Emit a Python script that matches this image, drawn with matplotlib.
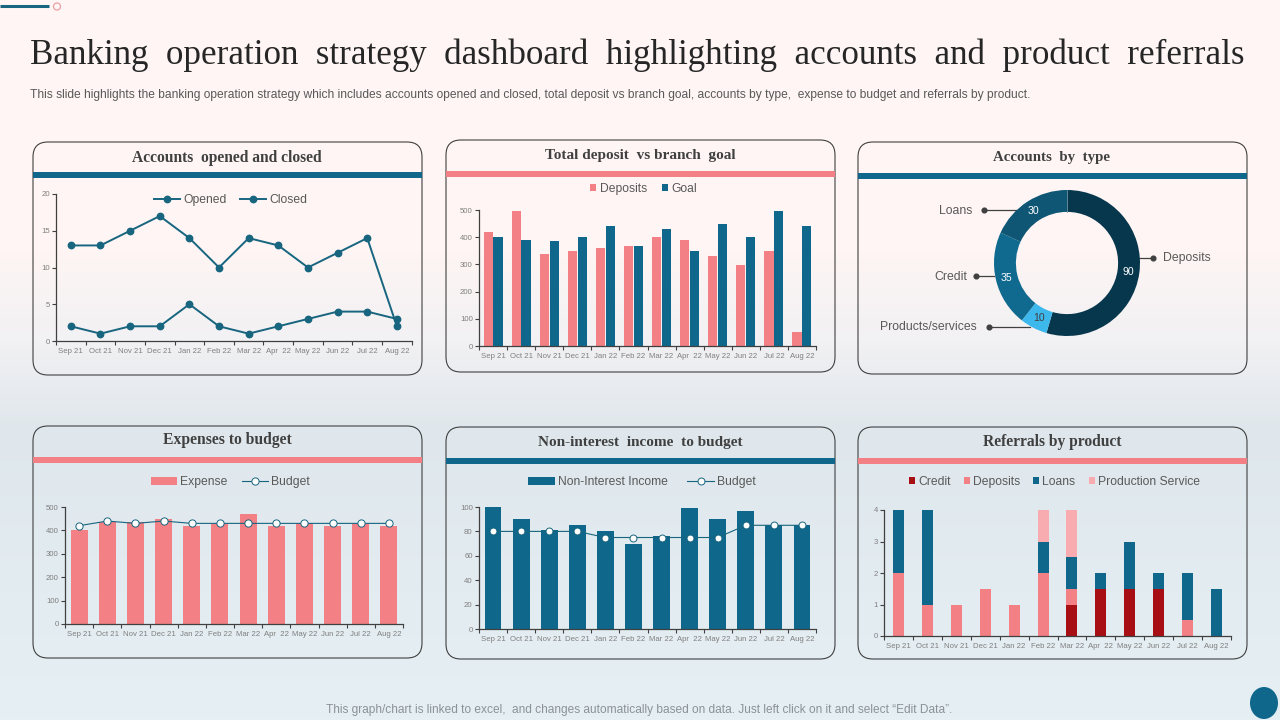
import numpy as np
import matplotlib
matplotlib.use('Agg')
import matplotlib.pyplot as plt
from matplotlib.colors import LinearSegmentedColormap
from matplotlib.patches import FancyBboxPatch, Rectangle, Circle, Ellipse

months = ['Sep 21','Oct 21','Nov 21','Dec 21','Jan 22','Feb 22','Mar 22','Apr  22','May 22','Jun 22','Jul 22','Aug 22']
opened = [13,13,15,17,14,10,14,13,10,12,14,2]
closed = [2,1,2,2,5,2,1,2,3,4,4,3]
deposits = [420,495,340,350,360,368,400,390,332,298,350,50]
goal = [400,390,385,400,440,368,430,350,448,400,498,440]
type_names = ['Deposits','Products/services','Credit','Loans']
type_values = [90,10,35,30]
expense = [400,435,437,450,420,427,468,420,430,420,428,420]
expense_budget = [420,440,430,440,430,430,430,430,430,430,430,430]
income = [100,90,81,85,80,70,76,99,90,97,85,85]
income_budget = [80,80,80,80,75,75,75,75,75,85,85,85]
ref_credit = [0,0,0,0,0,0,1,1.5,1.5,1.5,0,0]
ref_deposits = [2,1,1,1.5,1,2,0.5,0,0,0,0.5,0]
ref_loans = [2,3,0,0,0,1,1,0.5,1.5,0.5,1.5,1.5]
ref_production = [0,0,0,0,0,1,1.5,0,0,0,0,0]

W, H = 1280, 720
TEAL = '#0f678c'; PINK = '#f38085'; DARK = '#404040'; GREY = '#7f7f7f'; LEG = '#595959'
SANS = 'Liberation Sans'; SERIF = 'Liberation Serif'

fig = plt.figure(figsize=(12.8, 7.2), dpi=100)
bg = fig.add_axes([0, 0, 1, 1], zorder=0)
bg.set_xlim(0, W); bg.set_ylim(H, 0); bg.axis('off')
stops = [(0, '#fef5f4'), (250/720, '#fef5f4'), (340/720, '#f2f1f3'), (430/720, '#dfe7ec'), (1, '#e6f0f4')]
cmap = LinearSegmentedColormap.from_list('bg', stops)
bg.imshow(np.linspace(0, 1, 720)[:, None], extent=[0, W, H, 0], aspect='auto', cmap=cmap, vmin=0, vmax=1, zorder=0)

renderer = fig.canvas.get_renderer()

def fit_text(s, x0, x1, y, **kw):
    t = bg.text(x0, y, s, ha='left', va='center', **kw)
    for _ in range(3):
        w = t.get_window_extent(renderer).width
        t.set_fontsize(t.get_fontsize() * (x1 - x0) / w)
    return t

fit_text('Banking  operation  strategy  dashboard  highlighting  accounts  and  product  referrals',
         30, 1243, 55, family=SERIF, fontsize=27, color='#262626')
fit_text('This slide highlights the banking operation strategy which includes accounts opened and closed, total deposit vs branch goal, accounts by type,  expense to budget and referrals by product.',
         30, 1025, 95, family=SANS, fontsize=8.5, color='#595959')
fit_text('This graph/chart is linked to excel,  and changes automatically based on data. Just left click on it and select \u201cEdit Data\u201d.',
         326, 955, 710, family=SANS, fontsize=8.5, color='#8b9296')
bg.plot([0, 49], [6, 6], color='#17657f', lw=2.2, solid_capstyle='butt')
bg.add_patch(Circle((57, 6.5), 3.5, fc='none', ec='#eda0a6', lw=0.9))
bg.add_patch(Ellipse((1264, 703), 28, 32, fc=TEAL, ec='none'))

def panel(x0, y0, x1, y1, bary, barc, title, tx0, tx1, ty):
    r = 15
    bg.add_patch(FancyBboxPatch((x0 + r, y0 + r), x1 - x0 - 2*r, y1 - y0 - 2*r,
                                boxstyle=f'round,pad={r},rounding_size={r}', fc='none', ec=DARK, lw=0.8))
    bg.add_patch(Rectangle((x0, bary), x1 - x0, 6, fc=barc, ec='none'))
    fit_text(title, tx0, tx1, ty + 1.5, family=SERIF, fontsize=11, fontweight='bold', color=DARK)

panel(33, 142, 422, 375, 172, TEAL, 'Accounts  opened and closed', 132, 323, 156)
panel(446, 140, 835, 372, 171, PINK, 'Total deposit  vs branch  goal', 545, 736, 154)
panel(858, 142, 1247, 374, 173, TEAL, 'Accounts  by  type', 993, 1110, 156)
panel(33, 426, 422, 658, 457, PINK, 'Expenses to budget', 163, 292, 439)
panel(446, 427, 835, 659, 458, TEAL, 'Non-interest  income  to budget', 538, 743, 441)
panel(858, 427, 1247, 659, 458, PINK, 'Referrals by product', 983, 1122, 441)

def make_ax(x0, ytop, x1, ybot, ymax, step):
    ax = fig.add_axes([x0/W, 1 - ybot/H, (x1 - x0)/W, (ybot - ytop)/H], zorder=2)
    ax.patch.set_alpha(0)
    for s in ('top', 'right'):
        ax.spines[s].set_visible(False)
    for s in ('left', 'bottom'):
        ax.spines[s].set_color(DARK); ax.spines[s].set_linewidth(0.9)
    ax.set_xlim(-0.5, 11.5); ax.set_ylim(0, ymax)
    n = np.arange(12)
    ax.set_xticks(np.arange(13) - 0.5); ax.set_xticklabels([])
    ax.set_xticks(n, minor=True)
    ax.set_xticklabels(months, minor=True, family=SANS, fontsize=5.6, color=GREY)
    ax.tick_params(axis='x', which='major', length=3, width=0.8, color=DARK)
    ax.tick_params(axis='x', which='minor', length=0, pad=5)
    ax.set_yticks(np.arange(0, ymax + 1, step))
    ax.tick_params(axis='y', length=3, width=0.8, color=DARK, labelsize=5.6, labelcolor=GREY, pad=1.5)
    for lab in ax.get_yticklabels():
        lab.set_family(SANS)
    return ax, n

def legend(ax, cx, cy, ncol, spacing=1.1, hlen=2.2, hh=0.7, order=None):
    pt = fig.transFigure.inverted().transform(bg.transData.transform((cx, cy)))
    hs, ls = ax.get_legend_handles_labels()
    if order:
        hs = [hs[i] for i in order]; ls = [ls[i] for i in order]
    ax.legend(hs, ls, loc='center', bbox_to_anchor=(pt[0], pt[1]), bbox_transform=fig.transFigure, ncol=ncol,
              frameon=False, columnspacing=spacing, handlelength=hlen, handleheight=hh, handletextpad=0.25,
              borderpad=0, prop={'family': SANS, 'size': 8.7}, labelcolor=LEG)

# Accounts opened and closed
ax, n = make_ax(56, 194, 411.7, 341, 20, 5)
ax.plot(n, opened, color='#17657f', lw=1.4, marker='o', ms=4.6, label='Opened', clip_on=False)
ax.plot(n, closed, color='#17657f', lw=1.4, marker='o', ms=4.6, label='Closed', clip_on=False)
legend(ax, 230.5, 200, 2)

# Total deposit vs branch goal
ax, n = make_ax(479, 210, 816, 346, 500, 100)
ax.bar(n - 0.175, deposits, 0.325, color=PINK, label='Deposits')
ax.bar(n + 0.175, goal, 0.325, color=TEAL, label='Goal')
legend(ax, 643.5, 189, 2, spacing=1.25, hlen=0.5, hh=0.5)

# Accounts by type
dax = fig.add_axes([994/W, 1 - 336/H, 146/W, 146/H], zorder=2)
wedges, _ = dax.pie(type_values, startangle=90, counterclock=False, radius=1,
                    colors=['#06374d', '#3db8ec', '#106a8f', '#0e5674'],
                    wedgeprops={'width': 0.3, 'edgecolor': 'none'})
dax.set_xlim(-1, 1); dax.set_ylim(-1, 1)
for w, v in zip(wedges, type_values):
    a = np.deg2rad((w.theta1 + w.theta2) / 2)
    dax.text(0.85*np.cos(a), 0.85*np.sin(a), str(v), ha='center', va='center', family=SANS, fontsize=7.6,
             color='#404040' if v == 10 else 'white')
dax.plot([0, 0], [0.7, 1], color='#6f97a8', lw=0.6)
leaders = [('Deposits', 1139, 1153, 258, 1163, 'left'), ('Loans', 1017, 984, 210, 972, 'right'),
           ('Credit', 994, 976, 276, 967, 'right'), ('Products/services', 1030, 989, 327, 977, 'right')]
for name, xa, xb, y, xt, ha in leaders:
    bg.plot([xa, xb], [y, y], color=DARK, lw=0.9, zorder=3)
    bg.plot([xb], [y], 'o', color=DARK, ms=3.4, zorder=3)
    bg.text(xt, y + 0.5, name, ha=ha, va='center', family=SANS, fontsize=8.8, color=LEG)

# Expenses to budget
ax, n = make_ax(65, 507, 403, 624, 500, 100)
ax.bar(n, expense, 0.6, color=PINK, label='Expense')
ax.plot(n, expense_budget, color='#17657f', lw=0.8, marker='o', ms=5.2, mfc='white', mec='#17657f', mew=0.7, label='Budget')
legend(ax, 230.5, 482, 2, spacing=1.15, order=[1, 0])

# Non-interest income to budget
ax, n = make_ax(479, 507, 816, 629, 100, 20)
ax.bar(n, income, 0.6, color=TEAL, label='Non-Interest Income')
ax.plot(n, income_budget, color='#17657f', lw=0.8, marker='o', ms=5.0, mfc='white', mec='#17657f', mew=0.7, label='Budget')
legend(ax, 642, 482, 2, spacing=1.6, order=[1, 0])

# Referrals by product
ax, n = make_ax(884, 510, 1231, 636, 4, 1)
bottom = np.zeros(12)
for vals, col, lab in [(ref_credit, '#a80f14', 'Credit'), (ref_deposits, PINK, 'Deposits'),
                       (ref_loans, TEAL, 'Loans'), (ref_production, '#f8acb0', 'Production Service')]:
    ax.bar(n, vals, 0.38, bottom=bottom, color=col, label=lab)
    bottom += np.array(vals)
legend(ax, 1054.5, 482, 4, spacing=1.08, hlen=0.5, hh=0.5)

fig.savefig('out.png', dpi=100)
